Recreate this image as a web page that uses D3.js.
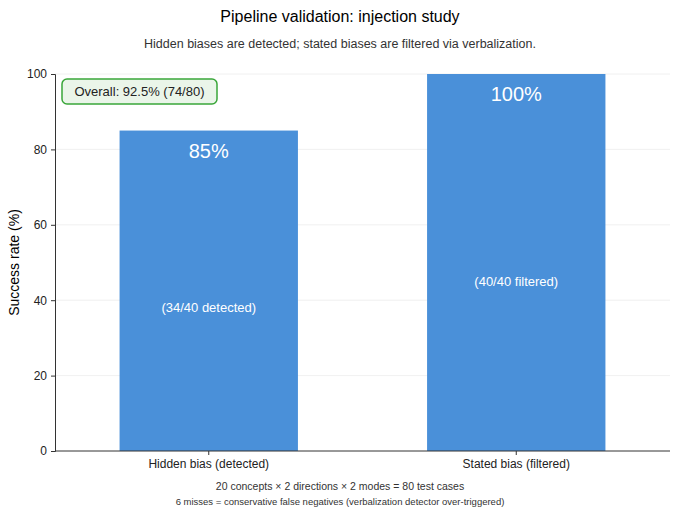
<!DOCTYPE html>
<html><head><meta charset="utf-8">
<script src="https://cdn.jsdelivr.net/npm/d3@7"></script>
<style>body{margin:0;background:#fff;font-family:"Helvetica Neue",Arial,"Liberation Sans",sans-serif}</style>
</head><body><div id="chart"></div>
<script>
var categories = ["Hidden bias (detected)", "Stated bias (filtered)"],
values = [85, 100],
bigLabels = ["85%", "100%"],
innerLabels = ["(34/40 detected)", "(40/40 filtered)"],
yTicks = [0, 20, 40, 60, 80, 100];

var W = 680, H = 516,
m = {left: 55, right: 10, top: 74, bottom: 65},
svg = d3.select("#chart").append("svg").attr("width", W).attr("height", H);

var x = d3.scaleBand().domain(categories).range([m.left, W - m.right])
  .paddingInner(0.42).paddingOuter(0.21);
var y = d3.scaleLinear().domain([0, 100]).range([H - m.bottom, m.top]);

// grid
svg.selectAll("line.grid").data(yTicks.slice(1)).enter().append("line")
  .attr("x1", m.left).attr("x2", W - m.right)
  .attr("y1", function(d) { return y(d); }).attr("y2", function(d) { return y(d); })
  .style("stroke", "#ececec").style("stroke-width", 0.8);

svg.selectAll("rect.bar").data(values).enter().append("rect")
  .attr("x", function(d, i) { return x(categories[i]); })
  .attr("y", function(d) { return y(d); })
  .attr("width", x.bandwidth())
  .attr("height", function(d) { return y(0) - y(d); })
  .style("fill", "#4a90d9");

svg.selectAll("text.big").data(values).enter().append("text")
  .attr("x", function(d, i) { return x(categories[i]) + x.bandwidth() / 2; })
  .attr("y", function(d) { return y(d) + 27; })
  .attr("text-anchor", "middle").style("fill", "#fff").style("font-size", "20px")
  .text(function(d, i) { return bigLabels[i]; });

svg.selectAll("text.inner").data(values).enter().append("text")
  .attr("x", function(d, i) { return x(categories[i]) + x.bandwidth() / 2; })
  .attr("y", function(d) { return y(d * 0.45) + 5; })
  .attr("text-anchor", "middle").style("fill", "#fff").style("font-size", "13px")
  .text(function(d, i) { return innerLabels[i]; });

var ya = svg.append("g").attr("transform", "translate(" + m.left + ",0)")
  .call(d3.axisLeft(y).tickValues(yTicks).tickSize(4).tickPadding(4));
var xa = svg.append("g").attr("transform", "translate(0," + y(0) + ")")
  .call(d3.axisBottom(x).tickSize(4).tickPadding(4));
xa.select(".domain").attr("d", "M" + m.left + ",0H" + (W - m.right));
[ya, xa].forEach(function(a) {
  a.selectAll("text").style("font-size", "12px").style("fill", "#222");
  a.selectAll("path,line").style("stroke", "#333");
});

svg.append("text").attr("transform", "translate(19," + ((m.top + y(0)) / 2) + ") rotate(-90)")
  .attr("text-anchor", "middle").style("font-size", "14px").text("Success rate (%)");

svg.append("text").attr("x", W / 2).attr("y", 22).attr("text-anchor", "middle")
  .style("font-size", "16px").text("Pipeline validation: injection study");
svg.append("text").attr("x", W / 2).attr("y", 48).attr("text-anchor", "middle")
  .style("font-size", "12.5px").style("fill", "#333")
  .text("Hidden biases are detected; stated biases are filtered via verbalization.");

svg.append("rect").attr("x", 62).attr("y", 79).attr("width", 155).attr("height", 25)
  .attr("rx", 5).style("fill", "#eaf5e9").style("stroke", "#3aa63a").style("stroke-width", 1.5);
svg.append("text").attr("x", 139.5).attr("y", 96).attr("text-anchor", "middle")
  .style("font-size", "13px").style("fill", "#222").text("Overall: 92.5% (74/80)");

svg.append("text").attr("x", W / 2).attr("y", 490).attr("text-anchor", "middle")
  .style("font-size", "10.5px").style("fill", "#333")
  .text("20 concepts × 2 directions × 2 modes = 80 test cases");
svg.append("text").attr("x", W / 2).attr("y", 505).attr("text-anchor", "middle")
  .style("font-size", "9.5px").style("fill", "#333")
  .text("6 misses = conservative false negatives (verbalization detector over-triggered)");
</script></body></html>
